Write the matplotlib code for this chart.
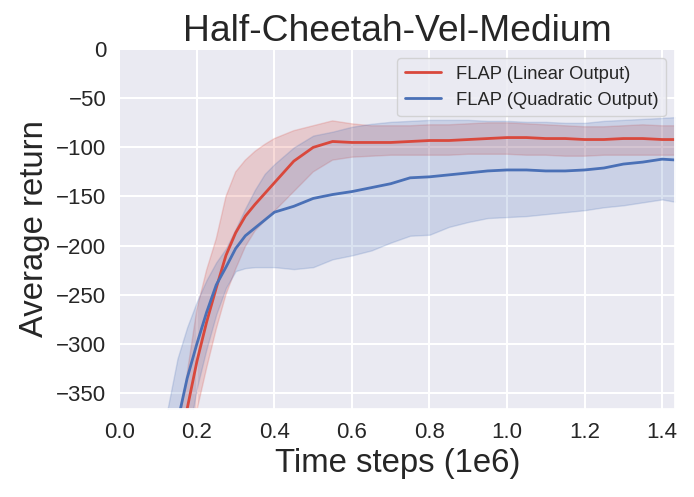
import matplotlib
matplotlib.use("Agg")
import matplotlib.pyplot as plt
import seaborn as sns

sns.set_theme(style="darkgrid", rc={"grid.linewidth": 1.5})
plt.rcParams['font.family'] = ['Arial', 'Liberation Sans', 'DejaVu Sans']

# Dados
steps = [0.100, 0.125, 0.150, 0.175, 0.200, 0.225, 0.250, 0.275, 0.300, 0.325,
         0.350, 0.375, 0.400, 0.450, 0.500, 0.550, 0.600, 0.650, 0.700, 0.750,
         0.800, 0.850, 0.900, 0.950, 1.000, 1.050, 1.100, 1.150, 1.200, 1.250,
         1.300, 1.350, 1.400, 1.442]

linear_mean = [-560, -500, -440, -366, -318, -278, -243, -210, -187, -170,
               -158, -147, -136, -114, -100, -94, -95, -95, -95, -94,
               -93, -93, -92, -91, -90, -90, -91, -91, -92, -92,
               -91, -91, -92, -92]
linear_upper = [-500, -440, -390, -330, -265, -225, -193, -150, -125, -113,
                -104, -97, -91, -83, -78, -73, -76, -78, -78, -78,
                -77, -77, -76, -75, -75, -76, -77, -78, -79, -79,
                -78, -77, -78, -78]
linear_lower = [-620, -570, -510, -440, -368, -325, -285, -250, -224, -201,
                -185, -175, -165, -145, -125, -113, -110, -109, -108, -108,
                -108, -108, -107, -107, -107, -108, -108, -109, -109, -108,
                -108, -108, -108, -108]

quad_mean = [-450, -410, -380, -335, -300, -268, -240, -222, -203, -190,
             -182, -174, -166, -160, -152, -148, -145, -141, -137, -131,
             -130, -128, -126, -124, -123, -123, -124, -124, -123, -121,
             -117, -115, -112, -113]
quad_upper = [-430, -365, -315, -283, -257, -235, -217, -203, -183, -162,
              -143, -127, -117, -100, -88, -84, -79, -76, -74, -73,
              -72, -72, -72, -73, -73, -74, -74, -75, -75, -73,
              -72, -71, -70, -69]
quad_lower = [-560, -520, -470, -400, -345, -305, -270, -243, -226, -223,
              -222, -222, -222, -224, -222, -214, -210, -205, -197, -190,
              -189, -181, -176, -172, -171, -170, -168, -166, -164, -161,
              -159, -156, -153, -156]

red = "#d9483c"
blue = "#4a70b6"

fig, ax = plt.subplots(figsize=(6.94, 4.97), dpi=100)
ax.fill_between(steps, linear_lower, linear_upper, color=red, alpha=0.2, linewidth=1)
ax.fill_between(steps, quad_lower, quad_upper, color=blue, alpha=0.2, linewidth=1)
ax.plot(steps, linear_mean, color=red, linewidth=2, label="FLAP (Linear Output)")
ax.plot(steps, quad_mean, color=blue, linewidth=2, label="FLAP (Quadratic Output)")

ax.set_xlim(0, 1.434)
ax.set_ylim(-366, 0)
ax.set_xlabel("Time steps (1e6)", fontsize=23.7)
ax.set_ylabel("Average return", fontsize=23.7)
ax.set_title("Half-Cheetah-Vel-Medium", fontsize=26.8)
ax.tick_params(labelsize=16)
ax.legend(loc="upper right", fontsize=13.2)

plt.subplots_adjust(left=0.172, right=0.973, top=0.901, bottom=0.178)
plt.savefig("out.png")
